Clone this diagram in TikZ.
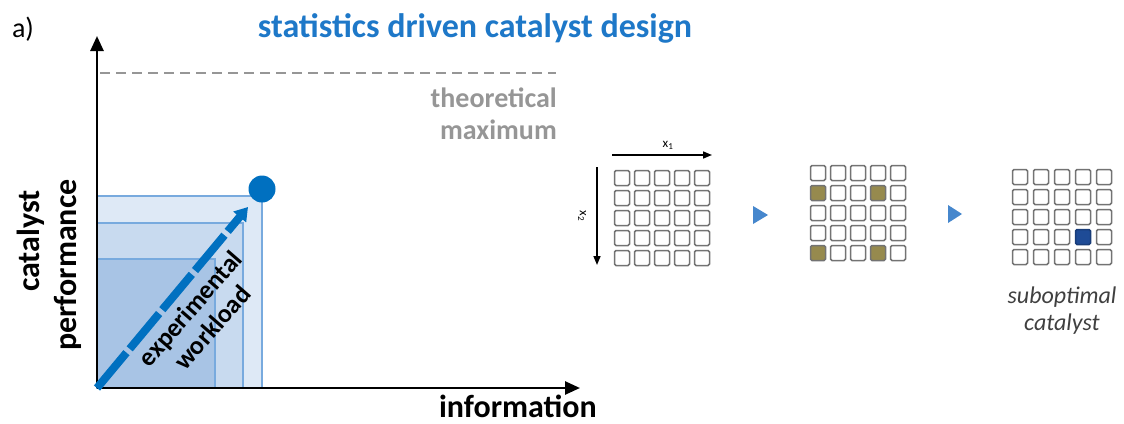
\documentclass[tikz,border=0pt]{standalone}
\usepackage{fontspec}
\setmainfont{Carlito}
\usetikzlibrary{arrows.meta}
\definecolor{mainblue}{RGB}{0,112,192}
\definecolor{titleblue}{RGB}{30,120,200}
\definecolor{playblue}{RGB}{70,135,205}
\definecolor{boxedge}{RGB}{120,170,222}
\definecolor{fillA}{RGB}{222,233,246}
\definecolor{fillB}{RGB}{200,218,239}
\definecolor{fillC}{RGB}{168,196,229}
\definecolor{olivecell}{RGB}{150,138,78}
\definecolor{bestcell}{RGB}{30,75,150}
\definecolor{maxgray}{RGB}{150,150,150}
\tikzset{
  axis/.style={line width=2.6pt,-{Triangle[length=15pt,width=13pt]}},
  gridarrow/.style={line width=1.6pt,-{Triangle[length=9pt,width=7pt]}},
  region/.style={draw=boxedge,line width=2pt},
  cell/.style={draw=black!55,line width=1.5pt,rounded corners=1.5pt,
    minimum size=15pt,inner sep=0pt,fill=white},
  play/.style={fill=playblue,draw=none},
  bigtext/.style={font=\fontsize{32}{36}\selectfont\bfseries,inner sep=0pt},
  maxtext/.style={font=\fontsize{28}{32}\selectfont\bfseries,text=maxgray,inner sep=0pt},
  worktext/.style={font=\fontsize{26}{29}\selectfont\bfseries,rotate=49,inner sep=0pt,align=center},
  smalllabel/.style={font=\fontsize{13}{15}\selectfont,inner sep=0pt},
}
\begin{document}
\begin{tikzpicture}[x=1pt,y=-1pt]
\useasboundingbox (0,0) rectangle (1124,423);

% panel label and title
\node[font=\fontsize{28}{30}\selectfont,inner sep=0pt] (lab) at (23,29) {a)};
\node[font=\fontsize{34}{38}\selectfont\bfseries,text=titleblue,inner sep=0pt] (title) at (475,28) {statistics driven catalyst design};

% nested regions of the explored space
\draw[region,fill=fillA] (97,196) rectangle (262,388);
\draw[region,fill=fillB] (97,223) rectangle (243,388);
\draw[region,fill=fillC] (97,259) rectangle (215,388);

% axes
\coordinate (O) at (97,388);
\coordinate (ytop) at (97,36);
\coordinate (xend) at (580,388);
\draw[axis] (O) -- (ytop);
\draw[axis] (O) -- (xend);

% theoretical maximum
\coordinate (maxL) at (100,73);
\coordinate (maxR) at (556,73);
\draw[maxgray,line width=2pt,dash pattern=on 10pt off 6pt] (maxL) -- (maxR);
\node[maxtext,anchor=east] (theo) at (557,98) {theoretical};
\node[maxtext,anchor=east] (maxi) at (557,130) {maximum};

% axis labels
\node[bigtext,rotate=90] (ylab1) at (31,241) {catalyst};
\node[bigtext,rotate=90] (ylab2) at (68,265) {performance};
\node[bigtext,anchor=base east] (xlab) at (597,417) {information};

% workload arrow and reached point
\node[circle,fill=mainblue,minimum size=27pt,inner sep=0pt] (dot) at (262,189) {};
\coordinate (wtip) at (248,207);
\draw[mainblue,line width=8pt,dash pattern=on 46pt off 5pt,-{Triangle[length=13pt,width=16pt]}] (O) -- (wtip);
\node[worktext] (work) at (201,318) {experimental\\workload};

% first grid: full factorial space
\foreach \r in {1,...,5}{
  \foreach \c in {1,...,5}{
    \node[cell] (a\r\c) at ({602+20*\c},{158+20*\r}) {};
  }
}
\coordinate (x1s) at (612,155);
\coordinate (x1e) at (712,155);
\draw[gridarrow] (x1s) -- (x1e);
\node[smalllabel] (x1) at (668,145) {x\textsubscript{1}};
\coordinate (x2s) at (597,167);
\coordinate (x2e) at (597,265);
\draw[gridarrow] (x2s) -- (x2e);
\node[smalllabel,rotate=-90] (x2) at (582,216) {x\textsubscript{2}};

% second grid: sampled design points (rows 2 and 5, columns 1 and 4)
\foreach \r in {1,...,5}{
  \foreach \c in {1,...,5}{
    \pgfmathtruncatemacro{\hit}{((\r==2)||(\r==5))&&((\c==1)||(\c==4))}
    \ifnum\hit=1
      \node[cell,fill=olivecell] (b\r\c) at ({798+20*\c},{153+20*\r}) {};
    \else
      \node[cell] (b\r\c) at ({798+20*\c},{153+20*\r}) {};
    \fi
  }
}

% third grid: selected catalyst
\foreach \r in {1,...,5}{
  \foreach \c in {1,...,5}{
    \pgfmathtruncatemacro{\hit}{(\r==4)&&(\c==4)}
    \ifnum\hit=1
      \node[cell,fill=bestcell,draw=bestcell!80!black] (c\r\c) at ({999+21*\c},{157+20*\r}) {};
    \else
      \node[cell] (c\r\c) at ({999+21*\c},{157+20*\r}) {};
    \fi
  }
}

% step markers
\path[play] (753,206) -- (768,215) -- (753,224) -- cycle;
\path[play] (948,205) -- (962,214) -- (948,223) -- cycle;

\node[font=\fontsize{24}{27}\selectfont\itshape,text=black!75,align=center,inner sep=0pt] (subopt) at (1062,311) {suboptimal\\catalyst};
\end{tikzpicture}
\end{document}
